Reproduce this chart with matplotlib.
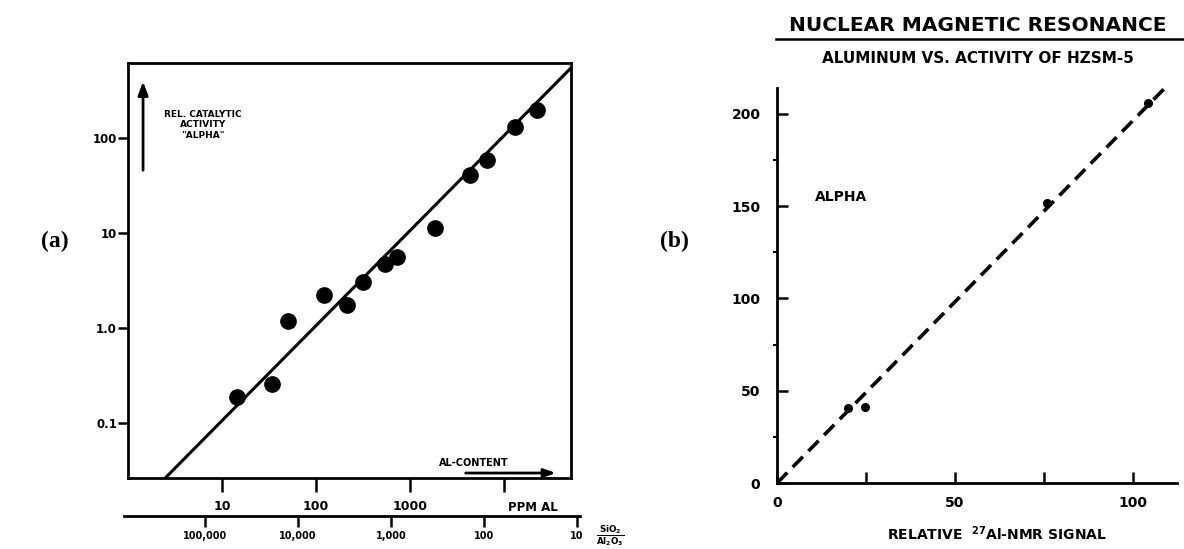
import numpy as np
import matplotlib
matplotlib.use("Agg")
import matplotlib.pyplot as plt
from matplotlib.lines import Line2D

plt.rcParams['font.family'] = ['DejaVu Sans']
plt.rcParams['font.weight'] = 'bold'
plt.rcParams['axes.labelweight'] = 'bold'

# (a) alpha vs. aluminium content (log-log)
ppm_al = [14.4, 34, 50, 122, 214, 316, 542, 728, 1845, 4345, 6590, 13100, 22400]
alpha_a = [0.19, 0.26, 1.19, 2.2, 1.75, 3.05, 4.7, 5.6, 11.3, 40.8, 58.7, 130, 197]
fit_ppm = [2.5, 52000]
fit_alpha = [0.0265, 551]
ppm_ticks = [10, 100, 1000, 10000]
ppm_labels = ["10", "100", "1000", ""]
y_ticks_a = [0.1, 1.0, 10, 100]
y_labels_a = ["0.1", "1.0", "10", "100"]
ratio_ticks = [1e5, 1e4, 1e3, 100, 10]
ratio_labels = ["100,000", "10,000", "1,000", "100", "10"]

# (b) alpha vs. relative 27Al-NMR signal
nmr_signal = [19.8, 24.6, 76, 104.2]
alpha_b = [40.8, 41.3, 151.6, 206]
nmr_fit_x = [0, 109]
nmr_fit_y = [0, 214]
x_ticks_b = [0, 25, 50, 75, 100]
x_labels_b = ["0", "", "50", "", "100"]
y_ticks_b = [0, 50, 100, 150, 200]

fig = plt.figure(figsize=(11.84, 5.49), dpi=100)

# ---- panel (a)
ax = fig.add_axes([0.1081, 0.1293, 0.3742, 0.7559])
ax.set_xscale("log")
ax.set_yscale("log")
ax.plot(fit_ppm, fit_alpha, color="black", lw=2.2, solid_capstyle="butt")
ax.plot(ppm_al, alpha_a, "o", color="black", ms=11)
ax.set_xlim(1.0, 51600)
ax.set_ylim(0.0264, 615)
ax.set_xticks(ppm_ticks)
ax.set_xticklabels(ppm_labels)
ax.set_yticks(y_ticks_a)
ax.set_yticklabels(y_labels_a)
ax.minorticks_off()
ax.tick_params(axis="x", direction="out", length=10, width=1.8, labelsize=9, pad=6)
ax.tick_params(axis="y", direction="out", length=7, width=1.8, labelsize=8.5, pad=1)
for s in ax.spines.values():
    s.set_linewidth(2)

ax.annotate("", xy=(0.034, 0.962), xytext=(0.034, 0.735), xycoords="axes fraction",
            arrowprops=dict(arrowstyle="-|>,head_width=0.3,head_length=0.8", lw=2, color="black"))
ax.text(0.169, 0.851, "REL. CATALYTIC\nACTIVITY\n\"ALPHA\"", transform=ax.transAxes,
        ha="center", va="center", fontsize=6.5, linespacing=1.25)
ax.text(0.781, 0.036, "AL-CONTENT", transform=ax.transAxes, ha="center", va="center",
        fontsize=7)
ax.annotate("", xy=(0.972, 0.012), xytext=(0.756, 0.012), xycoords="axes fraction",
            arrowprops=dict(arrowstyle="-|>,head_width=0.25,head_length=0.7", lw=2, color="black"))
ax.text(0.914, -0.07, "PPM AL", transform=ax.transAxes, ha="center", va="center",
        fontsize=8.5)

# secondary SiO2/Al2O3 scale
ax2 = fig.add_axes([0.1047, 0.0601, 0.3851, 0.0001])
ax2.set_xscale("log")
ax2.set_xlim(7.43e5, 9.28)
ax2.set_xticks(ratio_ticks)
ax2.set_xticklabels(ratio_labels)
ax2.minorticks_off()
ax2.set_yticks([])
for k in ["top", "left", "right"]:
    ax2.spines[k].set_visible(False)
ax2.spines["bottom"].set_linewidth(2)
ax2.tick_params(axis="x", direction="out", length=8, width=1.8, labelsize=7, pad=3)
fig.text(0.5155, 0.025, r"$\frac{\mathbf{SiO_2}}{\mathbf{Al_2O_3}}$", ha="center",
         va="center", fontsize=9)

fig.text(0.0465, 0.561, "(a)", ha="center", va="center", fontsize=17,
         family="Liberation Serif", weight="bold")
fig.text(0.570, 0.561, "(b)", ha="center", va="center", fontsize=17,
         family="Liberation Serif", weight="bold")

# ---- panel (b)
bx = fig.add_axes([0.6563, 0.1202, 0.3378, 0.7195])
bx.plot(nmr_fit_x, nmr_fit_y, color="black", lw=2.6, dashes=(4, 2.2))
bx.plot(nmr_signal, alpha_b, "o", color="black", ms=5.5)
bx.set_xlim(0, 112.4)
bx.set_ylim(0, 214)
bx.set_xticks(x_ticks_b)
bx.set_xticklabels(x_labels_b)
bx.set_yticks(y_ticks_b)
bx.set_yticks([25, 75, 125, 175], minor=True)
for k in ["top", "right"]:
    bx.spines[k].set_visible(False)
for k in ["left", "bottom"]:
    bx.spines[k].set_linewidth(2)
bx.tick_params(axis="x", direction="in", length=8, width=1.8, labelsize=10, pad=9)
bx.tick_params(axis="y", direction="in", length=8, width=1.8, labelsize=10, pad=12)
bx.tick_params(axis="y", which="minor", direction="out", length=3, width=1.5)
bx.set_xlabel(r"RELATIVE  $^{\mathbf{27}}$Al-NMR SIGNAL", fontsize=10, fontweight="bold")
bx.xaxis.set_label_coords(0.55, -0.105)
bx.text(0.095, 0.725, "ALPHA", transform=bx.transAxes, ha="left", va="center", fontsize=10)

fig.text(0.826, 0.954, "NUCLEAR MAGNETIC RESONANCE", ha="center", va="center", fontsize=14.5)
fig.add_artist(Line2D([0.655, 1.0], [0.929, 0.929], transform=fig.transFigure,
                      color="black", lw=1.8))
fig.text(0.826, 0.894, "ALUMINUM VS. ACTIVITY OF HZSM-5", ha="center", va="center", fontsize=11)

fig.savefig("out.png", dpi=100)
